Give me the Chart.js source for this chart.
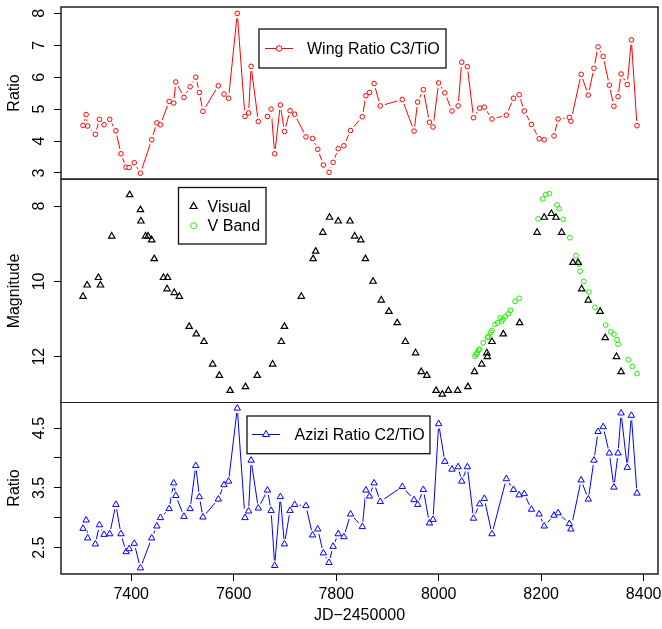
<!DOCTYPE html>
<html>
<head>
<meta charset="utf-8">
<script src="https://cdn.jsdelivr.net/npm/chart.js@4.4.1/dist/chart.umd.min.js"></script>
<style>
  body { margin: 0; background: #fff; }
  #wrap { position: relative; width: 662px; height: 629px; }
  canvas { position: absolute; left: 0; }
</style>
</head>
<body>
<div id="wrap">
  <canvas id="wing" width="662" height="180" style="top:0px"></canvas>
  <canvas id="mag" width="662" height="224" style="top:179px"></canvas>
  <canvas id="azizi" width="662" height="227" style="top:402px"></canvas>
</div>
<script>
// observation dates (JD-2450000) for the two band ratios
var dates = [7306, 7312, 7315, 7330, 7338, 7347, 7358, 7370, 7380, 7390,
  7396, 7406, 7418, 7440, 7450, 7457, 7474, 7483, 7487, 7503,
  7515, 7526, 7533, 7540, 7570, 7581, 7590, 7607, 7622, 7629,
  7634, 7648, 7666, 7673, 7680, 7691, 7699, 7710, 7719, 7741,
  7754, 7764, 7775, 7786, 7794, 7804, 7815, 7828, 7851, 7858,
  7865, 7874, 7886, 7929, 7952, 7959, 7970, 7982, 7989, 8000,
  8012, 8026, 8038, 8045, 8056, 8068, 8080, 8089, 8104, 8132,
  8146, 8157, 8167, 8181, 8196, 8206, 8225, 8233, 8255, 8258,
  8278, 8292, 8303, 8311, 8321, 8333, 8342, 8350, 8356, 8368,
  8376, 8387];

var wingRatio = [4.49, 4.83, 4.47, 4.21, 4.68, 4.51, 4.68, 4.32, 3.60, 3.18,
  3.17, 3.32, 2.99, 4.04, 4.57, 4.51, 5.24, 5.19, 5.85, 5.37,
  5.70, 6.00, 5.52, 4.93, 5.73, 5.47, 5.34, 8.00, 4.77, 4.88,
  6.34, 4.61, 4.77, 5.00, 3.60, 5.13, 4.30, 4.95, 4.84, 4.13,
  4.08, 3.74, 3.25, 3.02, 3.33, 3.76, 3.85, 4.33, 4.76, 5.42,
  5.52, 5.80, 5.10, 5.30, 4.31, 5.22, 5.61, 4.59, 4.44, 5.82,
  5.51, 4.94, 5.10, 6.47, 6.33, 4.73, 5.03, 5.06, 4.69, 4.81,
  5.34, 5.45, 4.94, 4.52, 4.07, 4.04, 4.16, 4.69, 4.74, 4.62,
  6.09, 5.44, 6.28, 6.95, 6.65, 5.75, 5.09, 5.39, 6.10, 5.77,
  7.17, 4.48];

var aziziRatio = [2.82, 2.96, 2.66, 2.56, 2.88, 2.72, 2.73, 3.22, 2.73, 2.43,
  2.48, 2.57, 2.16, 2.66, 2.86, 3.00, 3.15, 3.58, 3.37, 3.02,
  3.15, 3.87, 3.35, 3.01, 3.31, 3.55, 3.61, 4.83, 3.00, 3.11,
  3.96, 3.16, 3.46, 3.12, 2.20, 3.35, 2.56, 3.12, 3.22, 3.20,
  2.71, 2.81, 2.41, 2.25, 2.52, 2.73, 2.68, 3.06, 2.85, 3.46,
  3.36, 3.58, 3.27, 3.52, 3.30, 3.22, 3.47, 2.91, 2.97, 4.57,
  3.94, 3.81, 3.85, 3.61, 3.85, 2.99, 3.23, 3.32, 2.73, 3.65,
  3.47, 3.38, 3.40, 3.14, 3.06, 2.86, 3.04, 3.08, 2.90, 2.81,
  3.63, 3.31, 3.96, 4.44, 4.52, 4.08, 3.51, 4.08, 4.75, 3.84,
  4.71, 3.41];

// visual estimates
var visualJD = [7306, 7314, 7336, 7340, 7362, 7397, 7418, 7419, 7428, 7433,
  7440, 7445, 7463, 7471, 7470, 7484, 7494, 7513, 7527, 7542,
  7559, 7572, 7593, 7623, 7646, 7676, 7693, 7699, 7732, 7755,
  7760, 7774, 7787, 7804, 7827, 7836, 7848, 7857, 7872, 7888,
  7903, 7919, 7935, 7955, 7966, 7977, 7995, 8007, 8019, 8037,
  8057, 8070, 8084, 8094, 8095, 8104, 8126, 8158, 8192, 8206,
  8220, 8229, 8240, 8262, 8272, 8279, 8292, 8315, 8325, 8347,
  8356];
var visualMag = [10.4, 10.1, 9.9, 10.1, 8.8, 7.7, 8.1, 8.4, 8.8, 8.8,
  8.9, 9.4, 9.9, 9.9, 10.2, 10.3, 10.4, 11.2, 11.4, 11.6,
  12.2, 12.5, 12.9, 12.8, 12.5, 12.2, 11.6, 11.2, 10.4, 9.4,
  9.2, 8.7, 8.3, 8.4, 8.4, 8.8, 8.9, 9.4, 10.0, 10.5,
  10.8, 11.1, 11.6, 11.9, 12.4, 12.5, 12.9, 13.0, 12.9, 12.9,
  12.8, 12.4, 12.2, 11.9, 12.0, 11.6, 11.4, 11.1, 8.7, 8.3,
  8.2, 8.3, 8.7, 9.5, 9.5, 10.2, 10.5, 10.8, 11.5, 12.0,
  12.4];

// V band photometry
var vbandJD = [8071, 8073, 8075, 8078, 8080, 8087, 8095, 8097, 8102, 8104,
  8110, 8115, 8120, 8123, 8125, 8130, 8136, 8140, 8149, 8157,
  8194, 8203, 8209, 8216, 8231, 8235, 8243, 8256, 8268, 8274,
  8276, 8283, 8293, 8305, 8326, 8336, 8342, 8348, 8350, 8370,
  8378, 8387];
var vbandMag = [11.99, 11.94, 11.90, 11.83, 11.80, 11.63, 11.49, 11.46, 11.35, 11.30,
  11.14, 11.10, 10.97, 11.06, 11.01, 10.94, 10.86, 10.77, 10.53, 10.45,
  8.34, 7.81, 7.69, 7.67, 7.97, 8.07, 8.35, 8.84, 9.32, 9.54,
  9.73, 10.00, 10.28, 10.69, 11.16, 11.34, 11.40, 11.55, 11.67, 12.08,
  12.26, 12.45];

var jdTicks = [7400, 7600, 7800, 8000, 8200, 8400];

var FONT = '"Liberation Sans", Arial, Helvetica, sans-serif';
Chart.defaults.font.family = FONT;
Chart.defaults.font.size = 16;
Chart.defaults.color = '#000';

function pts(xs, ys) {
  return xs.map(function (x, i) { return { x: x, y: ys[i] }; });
}

// draws a marker the same way chart.js does (used in the legend box)
function marker(ctx, style, x, y, r) {
  ctx.beginPath();
  if (style === 'triangle') {
    var a = 0;
    ctx.moveTo(x + Math.sin(a) * r, y - Math.cos(a) * r);
    a += Math.PI * 2 / 3;
    ctx.lineTo(x + Math.sin(a) * r, y - Math.cos(a) * r);
    a += Math.PI * 2 / 3;
    ctx.lineTo(x + Math.sin(a) * r, y - Math.cos(a) * r);
    ctx.closePath();
  } else {
    ctx.arc(x, y, r, 0, Math.PI * 2);
  }
  ctx.fill();
  ctx.stroke();
}

var frame = {
  id: 'frame',
  afterDatasetsDraw: function (chart) {
    var a = chart.chartArea, ctx = chart.ctx;
    ctx.save();
    ctx.lineWidth = 1.4;
    ctx.strokeStyle = '#111';
    ctx.strokeRect(a.left, a.top, a.right - a.left, a.bottom - a.top);
    ctx.restore();
  }
};

var boxLegend = {
  id: 'boxLegend',
  afterDraw: function (chart, args, o) {
    var ctx = chart.ctx;
    ctx.save();
    ctx.fillStyle = '#fff';
    ctx.fillRect(o.x, o.y, o.w, o.h);
    ctx.lineWidth = 1.3;
    ctx.strokeStyle = '#111';
    ctx.strokeRect(o.x, o.y, o.w, o.h);
    ctx.font = '16px ' + FONT;
    ctx.textBaseline = 'middle';
    o.items.forEach(function (it) {
      if (it.line) {
        ctx.beginPath();
        ctx.lineWidth = 1;
        ctx.strokeStyle = it.color;
        ctx.moveTo(it.line[0], it.y);
        ctx.lineTo(it.line[1], it.y);
        ctx.stroke();
      }
      ctx.lineWidth = it.bw;
      ctx.strokeStyle = it.color;
      ctx.fillStyle = '#fff';
      marker(ctx, it.style, it.mx, it.y, it.r);
      ctx.fillStyle = '#000';
      ctx.fillText(it.text, it.tx, it.y + 1);
    });
    ctx.restore();
  }
};

function xScale(show) {
  return {
    type: 'linear', min: 7263, max: 8428, display: show,
    afterBuildTicks: function (s) { s.ticks = jdTicks.map(function (v) { return { value: v }; }); },
    ticks: { padding: 4, maxRotation: 0, autoSkip: false, callback: function (v) { return String(v); } },
    grid: { drawOnChartArea: false, tickLength: 7, color: '#000', tickColor: '#000', lineWidth: 1 },
    border: { display: false },
    title: { display: show, text: 'JD\u22122450000', padding: { top: 0, bottom: 3.4 } },
    afterFit: function (s) {
      s.height = show ? 55 : 0;
      s.paddingLeft = 0; s.paddingRight = 0;
    }
  };
}

function yScale(min, max, step, title, pad, rev, fmt) {
  return {
    type: 'linear', min: min, max: max, reverse: rev,
    ticks: {
      stepSize: step, includeBounds: false, autoSkip: false,
      minRotation: 90, maxRotation: 90, crossAlign: 'center', padding: pad,
      callback: fmt || function (v) { return String(v); }
    },
    grid: { drawOnChartArea: false, tickLength: 7, color: '#000', tickColor: '#000', lineWidth: 1 },
    border: { display: false },
    title: { display: true, text: title, padding: { top: 5.4, bottom: 0 } },
    afterFit: function (s) { s.width = 61; s.paddingTop = 0; s.paddingBottom = 0; }
  };
}

// connected series with a small gap round each marker
function linked(data, color, style, r, bw) {
  return [
    { data: data, pointStyle: style, pointRadius: r, pointBorderColor: color,
      pointBackgroundColor: '#fff', pointBorderWidth: bw, showLine: false, order: 1 },
    { data: data, pointStyle: 'circle', pointRadius: 5, pointBorderWidth: 0,
      pointBorderColor: 'rgba(0,0,0,0)', pointBackgroundColor: '#fff', showLine: false, order: 2 },
    { data: data, pointRadius: 0, borderColor: color, borderWidth: 1, showLine: true, order: 3 }
  ];
}

function baseOptions(pad, scales, legend) {
  return {
    responsive: false, animation: false, devicePixelRatio: 1,
    layout: { padding: pad, autoPadding: false },
    scales: scales,
    plugins: { legend: { display: false }, tooltip: { enabled: false }, boxLegend: legend }
  };
}

new Chart(document.getElementById('wing'), {
  type: 'scatter',
  data: { datasets: linked(pts(dates, wingRatio), '#ff0000', 'circle', 2.3, 1) },
  options: baseOptions({ top: 7, bottom: 1, left: 0, right: 4 },
    { x: xScale(false), y: yScale(2.81, 8.2, 1, 'Ratio', 9.5, false) },
    { x: 259, y: 29, w: 187, h: 39,
      items: [{ text: 'Wing Ratio C3/TiO', color: '#ff0000', style: 'circle', r: 2.8, bw: 1,
        line: [265, 293], mx: 279, y: 48.5, tx: 307 }] }),
  plugins: [frame, boxLegend]
});

new Chart(document.getElementById('mag'), {
  type: 'scatter',
  data: { datasets: [
    { data: pts(visualJD, visualMag), pointStyle: 'triangle', pointRadius: 3.7,
      pointBorderColor: '#000', pointBackgroundColor: 'rgba(0,0,0,0)', pointBorderWidth: 1.2 },
    { data: pts(vbandJD, vbandMag), pointStyle: 'circle', pointRadius: 2.4,
      pointBorderColor: '#22ee00', pointBackgroundColor: 'rgba(0,0,0,0)', pointBorderWidth: 1 }
  ] },
  options: baseOptions({ top: 0, bottom: 0, left: 0, right: 4 },
    { x: xScale(false), y: yScale(7.28, 13.23, 2, 'Magnitude', 5.1, true) },
    { x: 178.5, y: 8.5, w: 87.5, h: 56.5,
      items: [
        { text: 'Visual', color: '#000', style: 'triangle', r: 4, bw: 1.2, mx: 193.6, y: 27.5, tx: 207.6 },
        { text: 'V Band', color: '#22ee00', style: 'circle', r: 3, bw: 1, mx: 193.6, y: 46.7, tx: 207.6 }
      ] }),
  plugins: [frame, boxLegend]
});

new Chart(document.getElementById('azizi'), {
  type: 'scatter',
  data: { datasets: linked(pts(dates, aziziRatio), '#0000ff', 'triangle', 3.7, 1) },
  options: baseOptions({ top: 0, bottom: 0, left: 0, right: 4 },
    { x: xScale(true),
      y: yScale(2.06, 4.935, 0.5, 'Ratio', 2.9, false, function (v) {
        return Math.round(v * 2) % 2 === 1 ? v.toFixed(1) : '';
      }) },
    { x: 247, y: 14, w: 183, h: 37.7,
      items: [{ text: 'Azizi Ratio C2/TiO', color: '#0000ff', style: 'triangle', r: 4, bw: 1,
        line: [252, 280], mx: 266, y: 32.5, tx: 294.5 }] }),
  plugins: [frame, boxLegend]
});
</script>
</body>
</html>
